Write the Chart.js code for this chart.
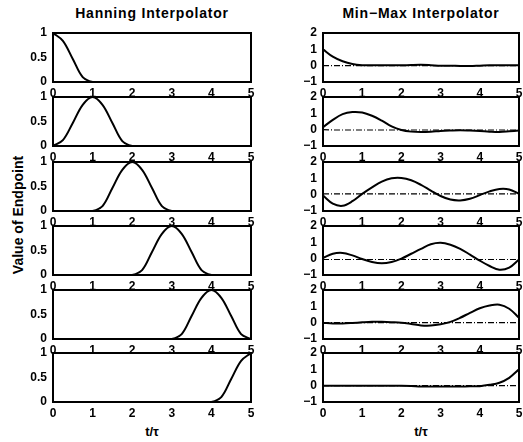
<!DOCTYPE html>
<html>
<head>
<meta charset="utf-8">
<script src="https://cdn.jsdelivr.net/npm/chart.js@4.4.0/dist/chart.umd.min.js"></script>
<style>
  body { margin: 0; background: #fff; width: 523px; height: 442px; position: relative; overflow: hidden; font-family: "Liberation Sans", Arial, sans-serif; }
  canvas { position: absolute; }
  .lbl { position: absolute; font-weight: bold; color: #000; white-space: nowrap; }
</style>
</head>
<body>
<div class="lbl" style="left:52px;top:5px;width:200px;text-align:center;font-size:14px;letter-spacing:0.8px;">Hanning Interpolator</div>
<div class="lbl" style="left:321px;top:5px;width:200px;text-align:center;font-size:14px;letter-spacing:0.8px;">Min&minus;Max Interpolator</div>
<div class="lbl" style="left:-52px;top:207px;width:140px;text-align:center;font-size:14px;transform:rotate(-90deg);">Value of Endpoint</div>
<div class="lbl" style="left:122px;top:424px;width:60px;text-align:center;font-size:13px;">t/&tau;</div>
<div class="lbl" style="left:391px;top:424px;width:60px;text-align:center;font-size:13px;">t/&tau;</div>
<script>
// shared time grid
const tGrid = [0, 0.25, 0.5, 0.75, 1, 1.25, 1.5, 1.75, 2, 2.25, 2.5, 2.75, 3, 3.25, 3.5, 3.75, 4, 4.25, 4.5, 4.75, 5];
const xTicks = [0, 1, 2, 3, 4, 5];

// Hanning interpolator, one endpoint per row
const hann1 = [1, 0.84, 0.47, 0.1, 0, 0, 0, 0, 0, 0, 0, 0, 0, 0, 0, 0, 0, 0, 0, 0, 0];
const hann2 = [0, 0.12, 0.47, 0.84, 1, 0.84, 0.47, 0.1, 0, 0, 0, 0, 0, 0, 0, 0, 0, 0, 0, 0, 0];
const hann3 = [0, 0, 0, 0, 0, 0.1, 0.47, 0.84, 1, 0.84, 0.47, 0.1, 0, 0, 0, 0, 0, 0, 0, 0, 0];
const hann4 = [0, 0, 0, 0, 0, 0, 0, 0, 0, 0.1, 0.47, 0.84, 1, 0.84, 0.47, 0.1, 0, 0, 0, 0, 0];
const hann5 = [0, 0, 0, 0, 0, 0, 0, 0, 0, 0, 0, 0, 0, 0.1, 0.47, 0.84, 1, 0.84, 0.47, 0.1, 0];
const hann6 = [0, 0, 0, 0, 0, 0, 0, 0, 0, 0, 0, 0, 0, 0, 0, 0, 0, 0.1, 0.47, 0.84, 1];

// Min-Max interpolator, real part (solid)
const mm1 = [1.0, 0.55, 0.27, 0.1, 0.03, 0.02, 0.02, 0.02, 0.02, 0.04, 0.05, 0.03, 0.0, 0.0, -0.02, -0.02, 0.0, 0.02, 0.02, 0.02, 0.02];
const mm2 = [0.15, 0.6, 0.95, 1.08, 1.05, 0.85, 0.55, 0.2, -0.02, -0.12, -0.15, -0.13, -0.08, -0.05, -0.03, -0.05, -0.08, -0.12, -0.14, -0.1, -0.05];
const mm3 = [-0.05, -0.55, -0.68, -0.4, 0.05, 0.45, 0.8, 1.0, 1.02, 0.88, 0.6, 0.25, -0.08, -0.3, -0.35, -0.25, -0.03, 0.2, 0.35, 0.32, 0.05];
const mm4 = [0.05, 0.3, 0.35, 0.2, -0.02, -0.2, -0.28, -0.2, 0.0, 0.3, 0.6, 0.88, 0.97, 0.85, 0.6, 0.25, -0.12, -0.45, -0.68, -0.55, -0.05];
const mm5 = [0.0, -0.05, -0.05, -0.02, 0.02, 0.05, 0.05, 0.03, 0.0, -0.08, -0.17, -0.18, -0.1, 0.05, 0.3, 0.6, 0.88, 1.05, 1.1, 0.85, 0.3];
const mm6 = [0, 0, 0, 0, 0, 0, 0, 0, 0, -0.02, -0.05, -0.05, -0.05, -0.05, -0.05, -0.04, -0.03, 0.05, 0.18, 0.48, 1.0];

// Min-Max interpolator, imaginary part (dash-dot)
const im1 = [0, 0, 0, 0, 0, 0, 0, 0, 0, 0, 0, 0, 0, 0, 0, 0, 0, 0, 0, 0, 0];
const im2 = [0, -0.02, -0.02, -0.02, -0.02, -0.02, -0.02, -0.02, -0.02, -0.02, -0.02, -0.02, -0.02, -0.02, -0.02, -0.02, -0.02, -0.02, -0.02, -0.02, -0.02];
const im3 = [0.05, 0.05, 0.05, 0.05, 0.05, 0.05, 0.05, 0.05, 0.05, 0.05, 0.05, 0.05, 0.05, 0.05, 0.05, 0.05, 0.05, 0.05, 0.05, 0.05, 0.05];
const im4 = [-0.05, -0.05, -0.05, -0.05, -0.05, -0.05, -0.05, -0.05, -0.05, -0.05, -0.05, -0.05, -0.05, -0.05, -0.05, -0.05, -0.05, -0.05, -0.05, -0.05, -0.05];
const im5 = [0, 0, 0, 0, 0, 0, 0, 0, 0, 0, 0, 0, 0, 0, 0, 0, 0, 0, 0, 0, 0];
const im6 = [0, 0, 0, 0, 0, 0, 0, 0, 0, 0, 0, 0, 0, 0, 0, 0, 0, 0, 0, 0, 0];

const hannRows = [hann1, hann2, hann3, hann4, hann5, hann6];
const mmRows = [mm1, mm2, mm3, mm4, mm5, mm6];
const imRows = [im1, im2, im3, im4, im5, im6];

// plot-area layout (pixels)
const rowTops = [33, 97, 162, 226, 290, 353];
const plotH = 49;
const leftCol = {left: 53, right: 251};
const rightCol = {left: 323, right: 519};
// padTop/padRight must exceed the room chart.js reserves for edge tick labels
const yAxisW = 40, xAxisH = 22, padTop = 15, padRight = 9;

const FONT = "'Liberation Sans', Arial, sans-serif";

const boxPlugin = {
  id: 'box',
  afterDraw(chart) {
    const a = chart.chartArea, ctx = chart.ctx;
    ctx.save();
    ctx.strokeStyle = '#000';
    ctx.lineWidth = 2;
    ctx.strokeRect(a.left, a.top, a.right - a.left, a.bottom - a.top);
    ctx.restore();
  }
};

function toPts(ys) {
  return tGrid.map((t, i) => ({x: t, y: ys[i]}));
}

function makeChart(col, top, datasets, yMin, yMax, yStep) {
  const c = document.createElement('canvas');
  const w = yAxisW + (col.right - col.left) + padRight;
  const h = padTop + plotH + xAxisH;
  c.width = w; c.height = h;
  c.style.left = (col.left - yAxisW) + 'px';
  c.style.top = (top - padTop) + 'px';
  c.style.width = w + 'px'; c.style.height = h + 'px';
  document.body.appendChild(c);
  new Chart(c.getContext('2d'), {
    type: 'line',
    data: {datasets: datasets},
    options: {
      responsive: false,
      animation: false,
      layout: {padding: {top: padTop, right: padRight, left: 0, bottom: 0}},
      plugins: {legend: {display: false}, tooltip: {enabled: false}},
      elements: {point: {radius: 0}},
      scales: {
        x: {
          type: 'linear', min: 0, max: 5,
          afterFit(s) { s.height = xAxisH; },
          afterBuildTicks(s) { s.ticks = xTicks.map(v => ({value: v})); },
          grid: {display: false, drawTicks: false},
          border: {display: false},
          ticks: {color: '#000', padding: 4, maxRotation: 0, autoSkip: false,
                  font: {family: FONT, size: 12, weight: 'bold'}}
        },
        y: {
          min: yMin, max: yMax,
          afterFit(s) { s.width = yAxisW; },
          grid: {display: false, drawTicks: false},
          border: {display: false},
          ticks: {stepSize: yStep, color: '#000', padding: 6, autoSkip: false,
                  font: {family: FONT, size: 12, weight: 'bold'},
                  callback: v => String(v).replace('-', '\u2212')}
        }
      }
    },
    plugins: [boxPlugin]
  });
}

for (let r = 0; r < 6; r++) {
  makeChart(leftCol, rowTops[r], [
    {data: toPts(hannRows[r]), borderColor: '#000', borderWidth: 2, tension: 0.35, fill: false}
  ], 0, 1, 0.5);
  makeChart(rightCol, rowTops[r], [
    {data: toPts(imRows[r]), borderColor: '#000', borderWidth: 1.2, borderDash: [6, 2, 1, 2], tension: 0, fill: false},
    {data: toPts(mmRows[r]), borderColor: '#000', borderWidth: 2, tension: 0.35, fill: false}
  ], -1, 2, 1);
}
</script>
</body>
</html>
